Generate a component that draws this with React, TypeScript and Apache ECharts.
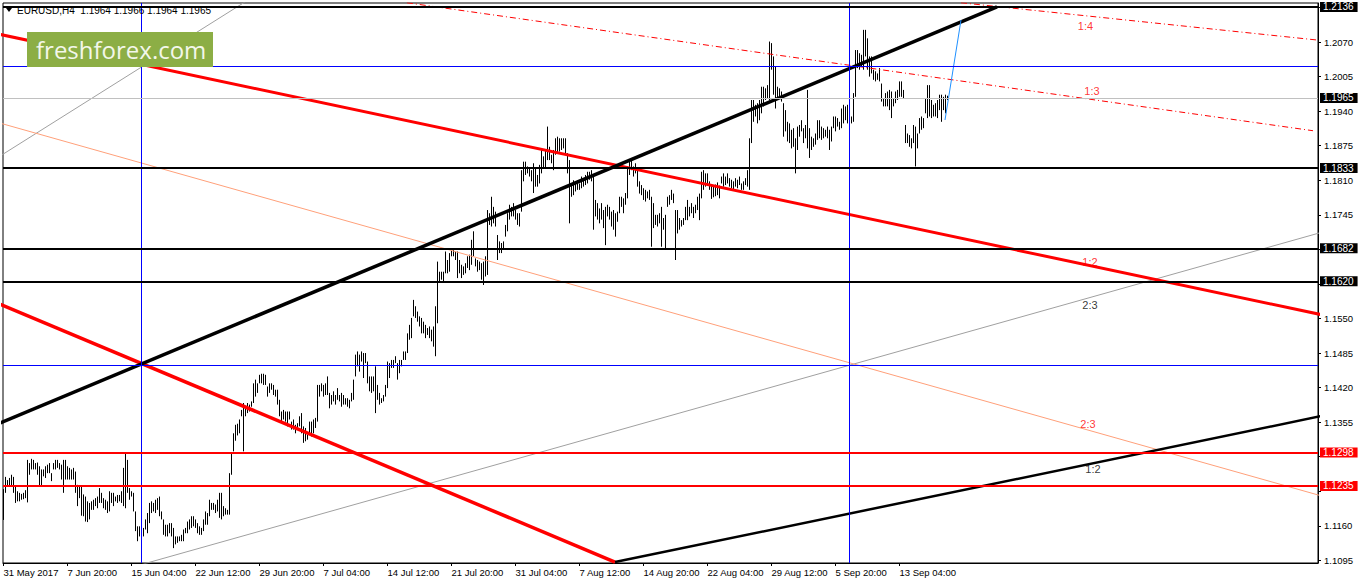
import React, { useEffect, useRef } from "react";
import * as echarts from "echarts";

const FONT = "'Liberation Sans', Arial, sans-serif";
const BASE = 1.1;
const PIP = 0.0001;

// H4 bar lows / highs in pips above 1.1000 (bar 0 = 31 May 2017 12:00)
const barLows = [
  171,222,234,234,234,222,203,206,206,209,
  210,212,204,256,266,266,266,256,234,234,
  253,250,259,259,244,266,266,269,266,247,
  222,247,247,247,247,247,222,197,212,179,
  178,168,167,172,190,190,197,193,203,203,
  193,190,184,187,203,197,206,203,206,203,
  197,193,222,209,215,187,150,131,140,140,
  140,153,146,165,184,187,184,190,178,172,
  143,140,140,146,140,118,125,128,131,131,
  131,146,146,153,156,159,156,146,143,143,
  150,162,162,178,190,190,184,187,175,172,
  178,181,181,181,256,300,320,330,334,366,
  300,366,372,375,384,391,403,410,428,428,
  425,425,403,410,416,406,403,388,366,356,
  360,356,347,360,341,341,334,341,347,334,
  316,319,322,331,328,334,344,356,403,413,
  403,406,406,381,388,394,388,397,394,384,
  388,388,384,381,394,397,441,460,450,469,
  438,466,428,413,410,413,372,397,388,391,
  394,403,419,438,457,457,466,435,447,460,
  472,472,485,510,513,554,551,544,535,522,
  522,513,519,513,507,497,479,541,620,623,
  620,635,635,638,667,667,660,626,635,626,
  632,635,645,641,651,667,648,638,641,623,
  613,629,632,726,723,729,723,660,673,673,
  679,704,714,736,742,742,736,726,723,751,
  808,820,823,817,808,786,798,798,804,823,
  833,833,848,848,842,829,858,861,864,867,
  870,861,823,729,779,782,789,792,792,795,
  798,801,804,811,808,717,742,736,729,736,
  720,688,742,736,723,717,704,732,748,760,
  748,764,776,820,829,817,823,798,785,782,
  773,770,776,773,685,720,726,723,729,685,
  717,682,760,764,773,767,660,710,717,723,
  726,735,735,742,748,739,748,754,735,776,
  792,798,801,792,775,778,780,782,776,804,
  798,801,804,798,795,792,798,795,801,792,
  792,801,798,792,880,920,930,917,923,936,
  949,961,964,961,1018,971,945,964,967,958,
  892,902,883,880,870,873,823,867,892,902,
  880,889,870,852,867,873,877,886,889,886,
  889,892,889,867,883,908,902,911,905,908,
  917,923,917,914,917,920,967,1021,1018,1024,
  1018,1043,1018,1005,1011,999,996,999,996,958,
  949,949,949,942,927,949,955,961,967,967,
  964,880,880,873,870,880,836,870,898,905,
  908,936,927,930,927,930,930,927,942,920,
  942,936,961,
];
const barHighs = [
  229,252,246,250,256,252,236,225,222,220,
  222,227,284,278,286,284,278,279,272,266,
  266,272,275,278,259,278,284,284,278,275,
  284,284,272,269,266,269,262,237,234,235,
  219,215,206,203,206,209,212,215,231,222,
  212,209,206,225,222,222,215,218,218,225,
  269,297,284,231,225,222,187,159,159,159,
  156,172,184,203,206,203,209,212,215,187,
  172,162,162,165,165,156,140,140,140,143,
  153,156,168,172,178,178,172,165,159,156,
  172,187,184,209,203,203,200,209,222,222,
  197,193,190,259,297,334,350,352,360,378,
  391,385,391,388,394,428,435,428,444,446,
  446,444,422,428,428,425,416,416,397,375,
  378,375,375,375,356,360,350,353,366,372,
  347,344,331,356,356,360,363,425,425,428,
  425,428,441,410,406,413,406,419,406,410,
  406,400,400,397,410,435,482,488,482,488,
  485,485,469,441,441,441,460,425,410,400,
  406,425,469,466,472,472,479,466,472,472,
  488,488,522,538,551,585,573,563,554,551,
  544,538,532,535,529,535,573,657,638,638,
  638,676,660,673,682,682,676,676,660,651,
  648,654,667,670,698,714,663,660,657,654,
  657,667,754,748,779,760,751,707,695,692,
  695,726,748,764,760,767,754,748,748,829,
  845,845,836,833,829,842,833,820,839,870,
  855,867,911,873,858,867,889,892,889,889,
  889,889,861,848,804,810,807,810,804,817,
  814,820,826,826,829,817,773,767,757,767,
  754,760,764,760,751,754,748,751,779,779,
  776,786,836,848,851,836,842,833,808,801,
  795,792,789,792,779,767,745,745,748,760,
  739,745,779,782,792,785,754,754,739,735,
  739,760,773,760,767,760,764,779,785,826,
  829,823,823,808,800,798,802,806,800,817,
  823,817,823,814,811,808,814,811,817,804,
  808,814,829,889,961,961,952,955,961,986,
  986,983,989,1071,1068,1043,1024,986,983,977,
  955,942,920,917,905,908,889,911,914,923,
  908,914,980,908,892,889,898,923,923,911,
  908,905,911,905,911,930,930,927,920,945,
  952,949,952,930,930,974,1055,1055,1049,1046,
  1093,1093,1077,1043,1043,1018,1015,1011,1021,992,
  964,974,977,980,977,964,977,980,996,996,
  980,914,898,895,889,914,911,898,927,930,
  927,964,989,989,961,952,955,961,971,971,
  967,971,969,
];

// x-axis: bar index of each date label, and the label text
const xTickIdx = [0, 32, 64, 96, 128, 160, 192, 224, 256, 288, 320, 352, 384, 416, 448];
const xTickLabels = [
  "31 May 2017", "7 Jun 20:00", "15 Jun 04:00", "22 Jun 12:00", "29 Jun 20:00",
  "7 Jul 04:00", "14 Jul 12:00", "21 Jul 20:00", "31 Jul 04:00", "7 Aug 12:00",
  "14 Aug 20:00", "22 Aug 04:00", "29 Aug 12:00", "5 Sep 20:00", "13 Sep 04:00",
];

// y-axis price scale
const yTickValues = [
  1.1095, 1.116, 1.1225, 1.129, 1.1355, 1.142, 1.1485, 1.155, 1.1615,
  1.168, 1.1745, 1.181, 1.1875, 1.194, 1.2005, 1.207, 1.2135,
];
const yLabelValues = [
  1.1095, 1.116, 1.1355, 1.142, 1.1485, 1.155, 1.1745, 1.181, 1.1875, 1.194, 1.2005, 1.207,
];

// horizontal levels
const blackLevels = [1.2136, 1.1833, 1.1682, 1.162];
const redLevels = [1.1298, 1.1235];
const currentPrice = 1.1965;
const blueLevels = [1.2025, 1.1462];
const verticalBars = [69, 423];

// trend lines: [barIndex, price]
const channelBlack = [[-5, 1.134835], [496.75, 1.2136]];
const redUpperLine = [[-5, 1.2087], [660, 1.15563]];
const salmonLine = [[-5, 1.1921], [660, 1.12151]];
const redLowerLine = [[-5, 1.15821], [305.75, 1.10918]];
const blackLowerLine = [[305.75, 1.10918], [660, 1.13673]];
const grayLowerLine = [[60, 1.10776], [660, 1.17131]];
const grayUpperLine = [[-5, 1.18478], [125, 1.21556]];
const fan14Line = [[478.75, 1.2144], [660, 1.20726]];
const fan13Line = [[201.7, 1.2144], [654.75, 1.19032]];
const forecastLine = [[470.75, 1.19234], [478.75, 1.21115]];

// ratio labels: [barIndex, price, text]
const redRatioLabels: [number, number, string][] = [
  [541, 1.21, "1:4"],
  [544.25, 1.1978, "1:3"],
  [543.25, 1.16562, "1:2"],
  [542.25, 1.13515, "2:3"],
];
const blackRatioLabels: [number, number, string][] = [
  [543.25, 1.15763, "2:3"],
  [544.75, 1.12668, "1:2"],
];

const headerText = "EURUSD,H4  1.1964 1.1966 1.1964 1.1965";
const logoText = "freshforex.com";

function lineSeries(data: number[][], color: string, width: number, type: any = "solid", z = 3) {
  return {
    type: "line",
    data,
    symbol: "none",
    showSymbol: false,
    clip: true,
    silent: true,
    z,
    lineStyle: { color, width, type },
    emphasis: { disabled: true },
  };
}

function levelLabel(v: number, bg: string) {
  return {
    show: true,
    position: "end",
    distance: 2,
    formatter: v.toFixed(4),
    color: "#fff",
    backgroundColor: bg,
    padding: [1, 4, 0, 3],
    fontSize: 10,
    lineHeight: 9,
    fontFamily: FONT,
  };
}

export default function App() {
  const ref = useRef<HTMLDivElement>(null);

  useEffect(() => {
    document.body.style.margin = "0";
    if (!ref.current) return;
    const chart = echarts.init(ref.current, null, { renderer: "svg" });

    const bars = barLows.map((lo, i) => [i, BASE + lo * PIP, BASE + barHighs[i] * PIP]);

    const markData: any[] = [];
    blueLevels.forEach((v) =>
      markData.push({ yAxis: v, lineStyle: { color: "#0000FF", width: 1, type: "solid" }, label: { show: false } })
    );
    verticalBars.forEach((x) =>
      markData.push({ xAxis: x, lineStyle: { color: "#0000FF", width: 1, type: "solid" }, label: { show: false } })
    );
    markData.push({
      yAxis: currentPrice,
      lineStyle: { color: "#C0C0C0", width: 1, type: "solid" },
      label: levelLabel(currentPrice, "#000"),
    });
    blackLevels.forEach((v) =>
      markData.push({ yAxis: v, lineStyle: { color: "#000", width: 2, type: "solid" }, label: levelLabel(v, "#000") })
    );
    redLevels.forEach((v) =>
      markData.push({ yAxis: v, lineStyle: { color: "#FF0000", width: 2, type: "solid" }, label: levelLabel(v, "#FF0000") })
    );

    const option: any = {
      animation: false,
      backgroundColor: "#ffffff",
      grid: {
        left: 3,
        right: 40,
        top: 3,
        bottom: 21,
        show: true,
        borderColor: "#000",
        borderWidth: 1,
        backgroundColor: "#fff",
      },
      xAxis: {
        type: "value",
        min: -0.25,
        max: 657.25,
        splitLine: { show: false },
        axisLine: { show: true, onZero: false, lineStyle: { color: "#000", width: 1 } },
        axisTick: { show: true, customValues: xTickIdx, length: 3, lineStyle: { color: "#000" } },
        axisLabel: {
          customValues: xTickIdx,
          formatter: (v: number) => {
            const k = xTickIdx.indexOf(Math.round(v));
            return k >= 0 ? xTickLabels[k] : "";
          },
          align: "left",
          margin: 4,
          fontSize: 9.5,
          fontFamily: FONT,
          color: "#000",
        },
      },
      yAxis: {
        type: "value",
        position: "right",
        min: 1.109,
        max: 1.21435,
        splitLine: { show: false },
        axisLine: { show: true, onZero: false, lineStyle: { color: "#000", width: 1 } },
        axisTick: { show: true, customValues: yTickValues, length: 3, lineStyle: { color: "#000" } },
        axisLabel: {
          customValues: yLabelValues,
          formatter: (v: number) => v.toFixed(4),
          margin: 6,
          fontSize: 9.5,
          fontFamily: FONT,
          color: "#000",
        },
      },
      series: [
        {
          type: "custom",
          data: bars,
          clip: true,
          silent: true,
          z: 2,
          renderItem: (_p: any, api: any) => {
            const i = api.value(0);
            const a = api.coord([i, api.value(1)]);
            const b = api.coord([i, api.value(2)]);
            return {
              type: "line",
              shape: { x1: a[0], y1: a[1], x2: b[0], y2: b[1] },
              style: { stroke: "#000", lineWidth: 1 },
            };
          },
        },
        lineSeries(grayUpperLine, "#A0A0A0", 1),
        lineSeries(grayLowerLine, "#A0A0A0", 1),
        lineSeries(salmonLine, "#FFA07A", 1),
        lineSeries(fan14Line, "#FF0000", 1, [6, 3, 1, 3]),
        lineSeries(fan13Line, "#FF0000", 1, [6, 3, 1, 3]),
        lineSeries(redUpperLine, "#FF0000", 3),
        lineSeries(redLowerLine, "#FF0000", 3.5),
        lineSeries(blackLowerLine, "#000000", 2.5),
        lineSeries(channelBlack, "#000000", 3.5, "solid", 4),
        {
          ...lineSeries(forecastLine, "#1E90FF", 1, "solid", 4),
          markLine: {
            symbol: ["none", "none"],
            precision: 5,
            silent: true,
            animation: false,
            emphasis: { disabled: true },
            label: { show: false },
            data: markData,
          },
        },
        {
          type: "scatter",
          data: redRatioLabels.map((d) => ({ value: [d[0], d[1]], name: d[2] })),
          symbolSize: 1,
          itemStyle: { color: "rgba(0,0,0,0)" },
          silent: true,
          z: 6,
          label: { show: true, position: "inside", formatter: "{b}", color: "#FF0000", fontSize: 11, fontFamily: FONT },
        },
        {
          type: "scatter",
          data: blackRatioLabels.map((d) => ({ value: [d[0], d[1]], name: d[2] })),
          symbolSize: 1,
          itemStyle: { color: "rgba(0,0,0,0)" },
          silent: true,
          z: 6,
          label: { show: true, position: "inside", formatter: "{b}", color: "#000", fontSize: 11, fontFamily: FONT },
        },
      ],
      graphic: [
        {
          type: "polygon",
          z: 100,
          shape: { points: [[6, 8], [12, 8], [9, 12]] },
          style: { fill: "#000" },
        },
        {
          type: "text",
          z: 100,
          x: 17,
          y: 10.5,
          style: { text: headerText, fontSize: 10, fontFamily: FONT, fill: "#000", verticalAlign: "middle" },
        },
        {
          type: "rect",
          z: 100,
          shape: { x: 27, y: 32, width: 186, height: 35 },
          style: { fill: "#8CAE45" },
        },
        {
          type: "text",
          z: 101,
          x: 36,
          y: 49.5,
          style: {
            text: logoText,
            fontSize: 24,
            fontFamily: "'Open Sans', sans-serif",
            fill: "#F3F7EA",
            verticalAlign: "middle",
            textAlign: "left",
          },
        },
      ],
    };

    chart.setOption(option);
    return () => chart.dispose();
  }, []);

  return <div ref={ref} style={{ width: 1358, height: 584 }} />;
}
